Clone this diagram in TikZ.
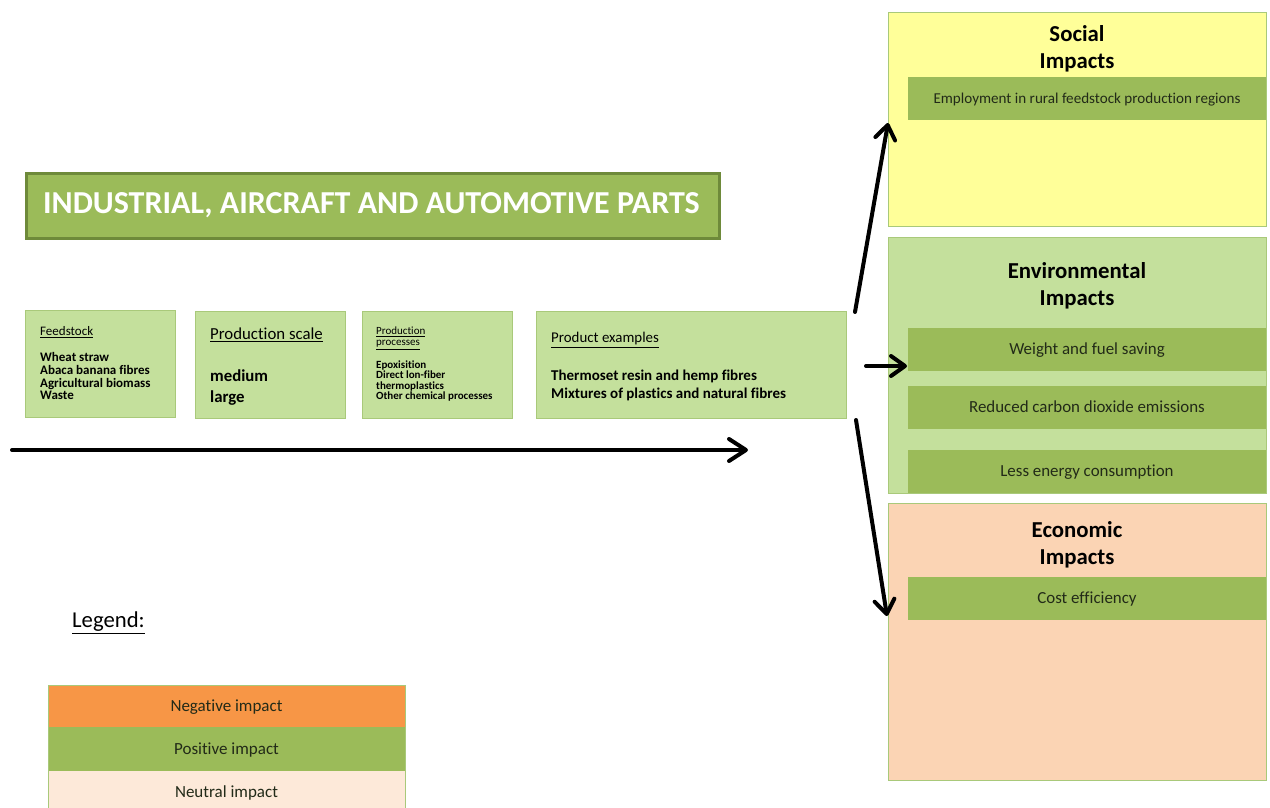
\documentclass[tikz,border=0pt]{standalone}
\usepackage{fontspec}
\setmainfont{Carlito}[Ligatures=NoCommon]
\usetikzlibrary{arrows.meta}
\lineskiplimit=-100pt\relax
\newcommand\tightlines{\lineskiplimit=-100pt\relax}
\definecolor{boxgreen}{HTML}{C4E09C}
\definecolor{boxedge}{HTML}{A9C97A}
\definecolor{bargreen}{HTML}{9BBB59}
\definecolor{titleedge}{HTML}{6E8A3A}
\definecolor{socialyellow}{HTML}{FFFF99}
\definecolor{econpeach}{HTML}{FBD4B4}
\definecolor{negorange}{HTML}{F79646}
\definecolor{neutralpink}{HTML}{FDE9D9}
\definecolor{bartext}{HTML}{222A18}
\begin{document}
\begin{tikzpicture}[x=1pt,y=-1pt,
  panel/.style={draw=boxedge, line width=1pt, inner sep=0pt, anchor=north west, outer sep=0pt},
  inbox/.style={panel, fill=boxgreen},
  impactbar/.style={fill=bargreen, inner sep=0pt, anchor=north west, minimum width=358pt, minimum height=43pt, text=bartext, outer sep=0pt, text height=12.5pt, text depth=2pt},
  txt/.style={inner sep=0pt, align=left, text=black},
  heading/.style={inner sep=0pt, align=center, font=\fontsize{22.8}{27}\selectfont\bfseries\tightlines},
  bigarrow/.style={line width=4pt, line cap=round, -{Straight Barb[length=14pt,width=20pt,line cap=round,line join=round]}},
  legendbar/.style={inner sep=0pt, anchor=north west, minimum width=357pt, font=\fontsize{17}{19}\selectfont, text=bartext, outer sep=0pt, text height=12.5pt, text depth=2pt}
]
\useasboundingbox (0,0) rectangle (1270,808);
\clip (0,0) rectangle (1270,808);

% Title
\node[draw=titleedge, line width=2.5pt, fill=bargreen, inner sep=0pt, anchor=north west,
      minimum width=693pt, minimum height=65pt] (title) at (25,172) {};
\node[inner sep=0pt, text=white, font=\fontsize{32}{36}\selectfont\bfseries] (titletxt) at (371.5,205.5)
  {INDUSTRIAL, AIRCRAFT AND AUTOMOTIVE PARTS};

% Feedstock
\node[inbox, minimum width=150pt, minimum height=107pt] (feed) at (25,310) {};
\node[txt, anchor=west, font=\fontsize{13}{15}\selectfont] (feedh) at (40,332) {\underline{Feedstock}};
\node[txt, anchor=north west, font=\fontsize{13}{12.6}\selectfont\bfseries\tightlines] (feedi) at (40,352.5)
  {Wheat straw\\Abaca banana fibres\\Agricultural biomass\\Waste};

% Production scale
\node[inbox, minimum width=150pt, minimum height=107pt] (scale) at (195,311) {};
\node[txt, anchor=west, font=\fontsize{16.8}{19}\selectfont] (scaleh) at (210,335) {\underline{Production scale}};
\node[txt, anchor=north west, font=\fontsize{16.8}{21}\selectfont\bfseries\tightlines] (scalei) at (210,369.5)
  {medium\\large};

% Production processes
\node[inbox, minimum width=150pt, minimum height=107pt] (proc) at (362,311) {};
\node[txt, anchor=north west, font=\fontsize{11}{11}\selectfont\tightlines] (proch) at (376,327)
  {\underline{Production}\\\underline{processes}};
\node[txt, anchor=north west, font=\fontsize{11}{10.4}\selectfont\bfseries\tightlines] (proci) at (376,360.5)
  {Epoxisition\\Direct lon-fiber\\thermoplastics\\Other chemical processes};

% Product examples
\node[inbox, minimum width=310pt, minimum height=107pt] (prod) at (536,311) {};
\node[txt, anchor=west, font=\fontsize{14.9}{17}\selectfont] (prodh) at (551,340) {\underline{Product examples}};
\node[txt, anchor=north west, font=\fontsize{15}{18}\selectfont\bfseries\tightlines] (prodi) at (551,370)
  {Thermoset resin and hemp fibres\\Mixtures of plastics and natural fibres};

% Social impacts
\node[panel, fill=socialyellow, minimum width=378pt, minimum height=213pt] (social) at (888,13) {};
\node[heading] (socialh) at (1077,49) {Social\\Impacts};
\node[impactbar, font=\fontsize{15.1}{17}\selectfont] (employ) at (908,77) {Employment in rural feedstock production regions};

% Environmental impacts
\node[inbox, minimum width=378pt, minimum height=256pt] (env) at (888,237) {};
\node[heading] (envh) at (1077,286) {Environmental\\Impacts};
\node[impactbar, font=\fontsize{16.9}{19}\selectfont] (weight) at (908,328) {Weight and fuel saving};
\node[impactbar, font=\fontsize{16.9}{19}\selectfont] (carbon) at (908,386) {Reduced carbon dioxide emissions};
\node[impactbar, font=\fontsize{16.9}{19}\selectfont] (energy) at (908,450) {Less energy consumption};

% Economic impacts
\node[panel, fill=econpeach, minimum width=378pt, minimum height=277pt] (econ) at (888,503) {};
\node[heading] (econh) at (1077,545) {Economic\\Impacts};
\node[impactbar, font=\fontsize{16.9}{19}\selectfont] (cost) at (908,577) {Cost efficiency};

% Legend
\node[inner sep=0pt, anchor=west, font=\fontsize{22.7}{26}\selectfont] (legendh) at (72,623) {\underline{Legend:}};
\node[panel, minimum width=357pt, minimum height=130pt] (legendbox) at (48,685) {};
\node[legendbar, fill=negorange, minimum height=42pt] (neg) at (48,685) {Negative impact};
\node[legendbar, fill=bargreen, minimum height=44pt] (pos) at (48,727) {Positive impact};
\node[legendbar, fill=neutralpink, minimum height=42pt] (neu) at (48,771) {Neutral impact};
\draw[boxedge, line width=1pt] (neg.north west) -- (neg.north east) (neg.north east) -- (neu.south east) (neg.north west) -- (neu.south west);

% Arrows
\coordinate (hstart) at (12,450);
\coordinate (hend) at (748,450);
\draw[line width=4pt, line cap=round, -{Straight Barb[length=17pt,width=22pt,line cap=round,line join=round]}] (hstart) -- (hend);

\coordinate (upstart) at (855,312);
\coordinate (uptip) at (888,123);
\draw[bigarrow] (upstart) -- (uptip);

\coordinate (midstart) at (866,366);
\coordinate (midtip) at (907,366);
\draw[bigarrow] (midstart) -- (midtip);

\coordinate (downstart) at (856,420);
\coordinate (downtip) at (887,616);
\draw[bigarrow] (downstart) -- (downtip);
\end{tikzpicture}
\end{document}
